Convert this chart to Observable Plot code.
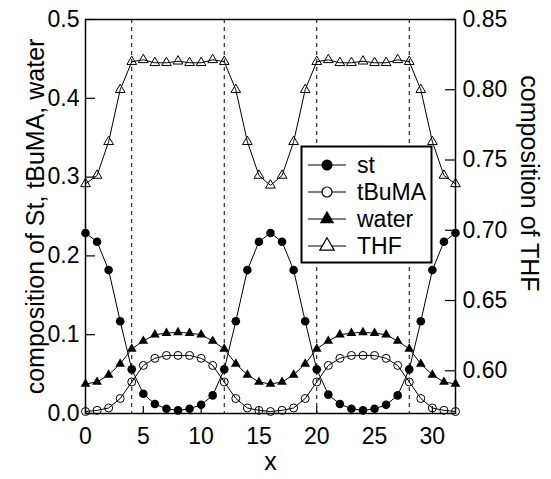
<!DOCTYPE html>
<html><head><meta charset="utf-8">
<script src="https://cdn.jsdelivr.net/npm/d3@7"></script>
<script src="https://cdn.jsdelivr.net/npm/@observablehq/plot@0.6"></script>
<style>body{margin:0;background:#fff} svg{font-family:"Liberation Sans",Arial,Helvetica,sans-serif}</style>
</head><body><div id="chart"></div>
<script>
const xs = [0,1,2,3,4,5,6,7,8,9,10,11,12,13,14,15,16,17,18,19,20,21,22,23,24,25,26,27,28,29,30,31,32];
const st = [0.229,0.218,0.182,0.117,0.056,0.025,0.012,0.006,0.004,0.006,0.011,0.023,0.056,0.117,0.182,0.218,0.229,0.218,0.182,0.117,0.056,0.024,0.012,0.006,0.004,0.006,0.011,0.023,0.056,0.117,0.182,0.218,0.229];
const tBuMA = [0.0025,0.004,0.007,0.019,0.040,0.061,0.070,0.0737,0.0737,0.0737,0.070,0.061,0.040,0.019,0.007,0.004,0.0025,0.004,0.007,0.019,0.040,0.061,0.070,0.0737,0.0737,0.0737,0.070,0.061,0.040,0.019,0.007,0.004,0.0025];
const water = [0.0375,0.040,0.049,0.063,0.082,0.092,0.100,0.102,0.103,0.102,0.100,0.092,0.082,0.063,0.049,0.040,0.0375,0.040,0.049,0.063,0.082,0.092,0.100,0.102,0.103,0.102,0.100,0.092,0.082,0.063,0.049,0.040,0.0375];
const THF = [0.733,0.739,0.763,0.800,0.820,0.8213,0.8192,0.8192,0.8203,0.8192,0.8192,0.8213,0.820,0.800,0.763,0.739,0.732,0.739,0.763,0.800,0.820,0.8213,0.8192,0.8192,0.8203,0.8192,0.8192,0.8213,0.820,0.800,0.763,0.739,0.733];
const dashX = [4,12,20,28];
const xTicks = [0,5,10,15,20,25,30];
const leftTicks = [0,0.1,0.2,0.3,0.4,0.5];
const rightTicks = [0.60,0.65,0.70,0.75,0.80,0.85];
const seriesNames = ["st","tBuMA","water","THF"];
const yLabel = "composition of St, tBuMA, water";
const y2Label = "composition of THF";
const xLabel = "x";

const thfLo = 0.5696, thfHi = 0.85;
const toLeft = v => (v - thfLo) / (thfHi - thfLo) * 0.5;
const fromLeft = v => v / 0.5 * (thfHi - thfLo) + thfLo;

const mk = (vals, tf) => xs.map((x, i) => ({x, y: tf ? tf(vals[i]) : vals[i]}));
const stD = mk(st), tbD = mk(tBuMA), wD = mk(water), thD = mk(THF, toLeft);

const W = 551, H = 479, mL = 85, mR = 96, mT = 19, mB = 66;
const fw = W - mL - mR, fh = H - mT - mB;
const ln = d => Plot.line(d, {x: "x", y: "y", stroke: "black", strokeWidth: 1});

const chart = Plot.plot({
  width: W, height: H,
  marginLeft: mL, marginRight: mR, marginTop: mT, marginBottom: mB,
  x: {domain: [0, 32]},
  y: {domain: [0, 0.5]},
  style: {fontFamily: '"Liberation Sans",Arial,sans-serif', fontSize: "23px", background: "white", color: "black"},
  marks: [
    Plot.ruleX(dashX, {x: d => d, stroke: "black", strokeWidth: 1, strokeDasharray: "4,4"}),
    ln(stD), ln(tbD), ln(wD), ln(thD),
    Plot.dot(stD, {x: "x", y: "y", r: 4.3, fill: "black"}),
    Plot.dot(tbD, {x: "x", y: "y", r: 4, fill: "none", stroke: "black", strokeWidth: 1}),
    Plot.dot(wD, {x: "x", y: "y", symbol: "triangle", r: 3.6, fill: "black"}),
    Plot.dot(thD, {x: "x", y: "y", symbol: "triangle", r: 3.6, fill: "none", stroke: "black", strokeWidth: 1}),
    Plot.tickX(xTicks, {x: d => d, insetTop: fh - 7, stroke: "black", strokeWidth: 1.2}),
    Plot.tickY(leftTicks, {y: d => d, insetRight: fw - 10, stroke: "black", strokeWidth: 1.2}),
    Plot.tickY(rightTicks.map(toLeft), {y: d => d, insetLeft: fw - 10, stroke: "black", strokeWidth: 1.2}),
    Plot.axisX(xTicks, {tickSize: 0, tickPadding: 14, label: null, fontSize: 23}),
    Plot.axisY(leftTicks, {anchor: "left", tickSize: 0, tickPadding: 6, tickFormat: d => d.toFixed(1), label: null, fontSize: 23}),
    Plot.axisY(rightTicks.map(toLeft), {anchor: "right", tickSize: 0, tickPadding: 7, tickFormat: d => fromLeft(d).toFixed(2), label: null, fontSize: 23}),
    Plot.text([yLabel], {text: d => d, frameAnchor: "left", rotate: -90, dx: -50, textAnchor: "middle", fontSize: 25}),
    Plot.text([y2Label], {text: d => d, frameAnchor: "right", rotate: 90, dx: 73, dy: -33, textAnchor: "middle", fontSize: 25}),
    Plot.text([xLabel], {text: d => d, frameAnchor: "bottom", dy: 56, textAnchor: "middle", fontSize: 25}),
    Plot.frame({stroke: "black", strokeWidth: 1.5})
  ]
});
document.getElementById("chart").appendChild(chart);

// legend
const svg = d3.select(chart);
const lg = svg.append("g");
lg.append("rect").attr("x", 301.5).attr("y", 146.5).attr("width", 130).attr("height", 116)
  .attr("fill", "white").attr("stroke", "black").attr("stroke-width", 2);
const styles = [
  {sym: d3.symbolCircle, size: Math.PI * 5.5 * 5.5, fill: "black", stroke: "none"},
  {sym: d3.symbolCircle, size: Math.PI * 5 * 5, fill: "white", stroke: "black"},
  {sym: d3.symbolTriangle, size: 90, fill: "black", stroke: "none"},
  {sym: d3.symbolTriangle, size: 90, fill: "white", stroke: "black"}
];
seriesNames.forEach((name, i) => {
  const y = 165 + i * 27;
  lg.append("line").attr("x1", 308).attr("x2", 346).attr("y1", y).attr("y2", y).attr("stroke", "black").attr("stroke-width", 1.2);
  lg.append("path").attr("d", d3.symbol(styles[i].sym, styles[i].size)()).attr("transform", `translate(327,${y})`)
    .attr("fill", styles[i].fill).attr("stroke", styles[i].stroke).attr("stroke-width", 1.2);
  lg.append("text").attr("x", 357).attr("y", y).attr("dy", "0.35em")
    .style("text-anchor", "start").style("font-size", "23px")
    .style("font-family", '"Liberation Sans",Arial,sans-serif').text(name);
});
</script></body></html>
